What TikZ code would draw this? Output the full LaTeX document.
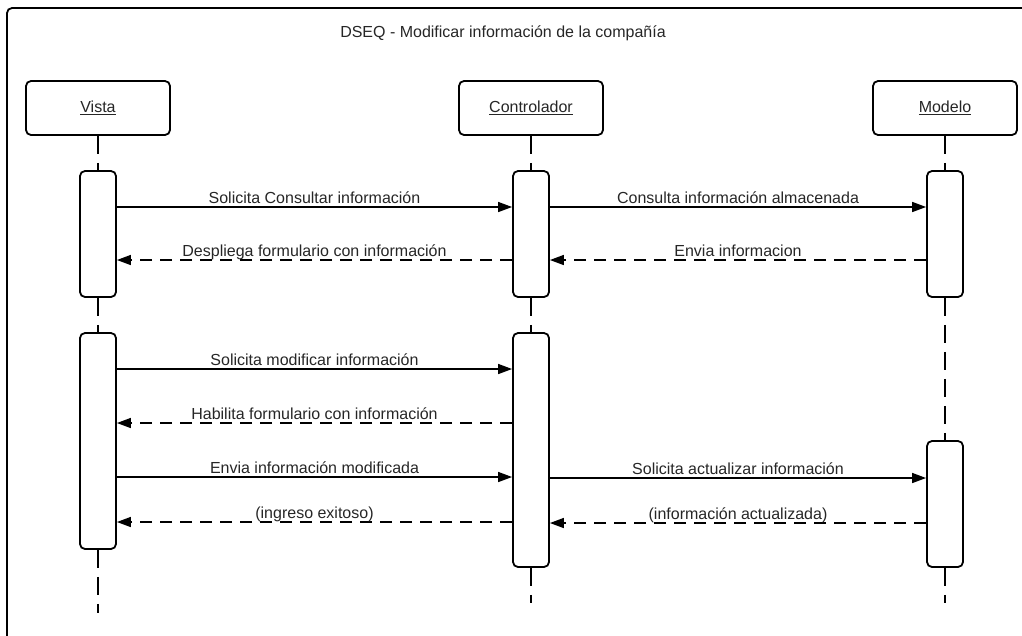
\documentclass[tikz,border=0pt]{standalone}
\usepackage{fontspec}
\setmainfont{Liberation Sans}
\usetikzlibrary{arrows.meta}

\begin{document}
\begin{tikzpicture}[x=1pt,y=-1pt,
    font=\fontsize{16}{19}\selectfont,
    head/.style={draw,line width=1.8pt,rounded corners=5pt,minimum width=144pt,minimum height=54pt,fill=white,text=black!85},
    act/.style={draw,line width=1.8pt,rounded corners=5pt,minimum width=36pt,fill=white},
    life/.style={line width=1.8pt,dash pattern=on 18pt off 9pt},
    msg/.style={line width=1.5pt,-{Triangle[length=14pt,width=10pt]}},
    ret/.style={msg,dash pattern=on 12pt off 8pt},
    lbl/.style={anchor=base,yshift=4pt,midway,text=black!85}]
    \useasboundingbox (0,0) rectangle (1022,635);
    \clip (0,0) rectangle (1022,635);
    % marco
    \draw[line width=1.8pt,rounded corners=5pt] (7,8) rectangle (1045,665);
    \node[anchor=base,text=black!85] (titulo) at (503,37) {DSEQ - Modificar información de la compañía};

    % cabeceras
    \node[head] (vista) at (98,108) {\underline{Vista}};
    \node[head] (ctrl) at (531,108) {\underline{Controlador}};
    \node[head] (modelo) at (945,108) {\underline{Modelo}};

    % activaciones
    \node[act,minimum height=126pt] (va) at (98,234) {};
    \node[act,minimum height=216pt] (vb) at (98,441) {};
    \node[act,minimum height=126pt] (ca) at (531,234) {};
    \node[act,minimum height=234pt] (cb) at (531,450) {};
    \node[act,minimum height=126pt] (ma) at (945,234) {};
    \node[act,minimum height=126pt] (mb) at (945,504) {};
    \coordinate (vfin) at (98,613);
    \coordinate (cfin) at (531,603);
    \coordinate (mfin) at (945,603);

    % lineas de vida
    \draw[life] (vista) -- (va);
    \draw[life] (va) -- (vb);
    \draw[life] (vb) -- (vfin);
    \draw[life] (ctrl) -- (ca);
    \draw[life] (ca) -- (cb);
    \draw[life] (cb) -- (cfin);
    \draw[life] (modelo) -- (ma);
    \draw[life] (ma) -- (mb);
    \draw[life] (mb) -- (mfin);

    % mensajes
    \draw[msg] (va.east |- 0,207) -- (ca.west |- 0,207) node[lbl] {Solicita Consultar información};
    \draw[msg] (ca.east |- 0,207) -- (ma.west |- 0,207) node[lbl] {Consulta información almacenada};
    \draw[ret] (ca.west |- 0,260) -- (va.east |- 0,260) node[lbl] {Despliega formulario con información};
    \draw[ret] (ma.west |- 0,260) -- (ca.east |- 0,260) node[lbl] {Envia informacion};
    \draw[msg] (vb.east |- 0,369) -- (cb.west |- 0,369) node[lbl] {Solicita modificar información};
    \draw[ret] (cb.west |- 0,423) -- (vb.east |- 0,423) node[lbl] {Habilita formulario con información};
    \draw[msg] (vb.east |- 0,477) -- (cb.west |- 0,477) node[lbl] {Envia información modificada};
    \draw[msg] (cb.east |- 0,478) -- (mb.west |- 0,478) node[lbl] {Solicita actualizar información};
    \draw[ret] (cb.west |- 0,522) -- (vb.east |- 0,522) node[lbl] {(ingreso exitoso)};
    \draw[ret] (mb.west |- 0,523) -- (cb.east |- 0,523) node[lbl] {(información actualizada)};
\end{tikzpicture}
\end{document}
